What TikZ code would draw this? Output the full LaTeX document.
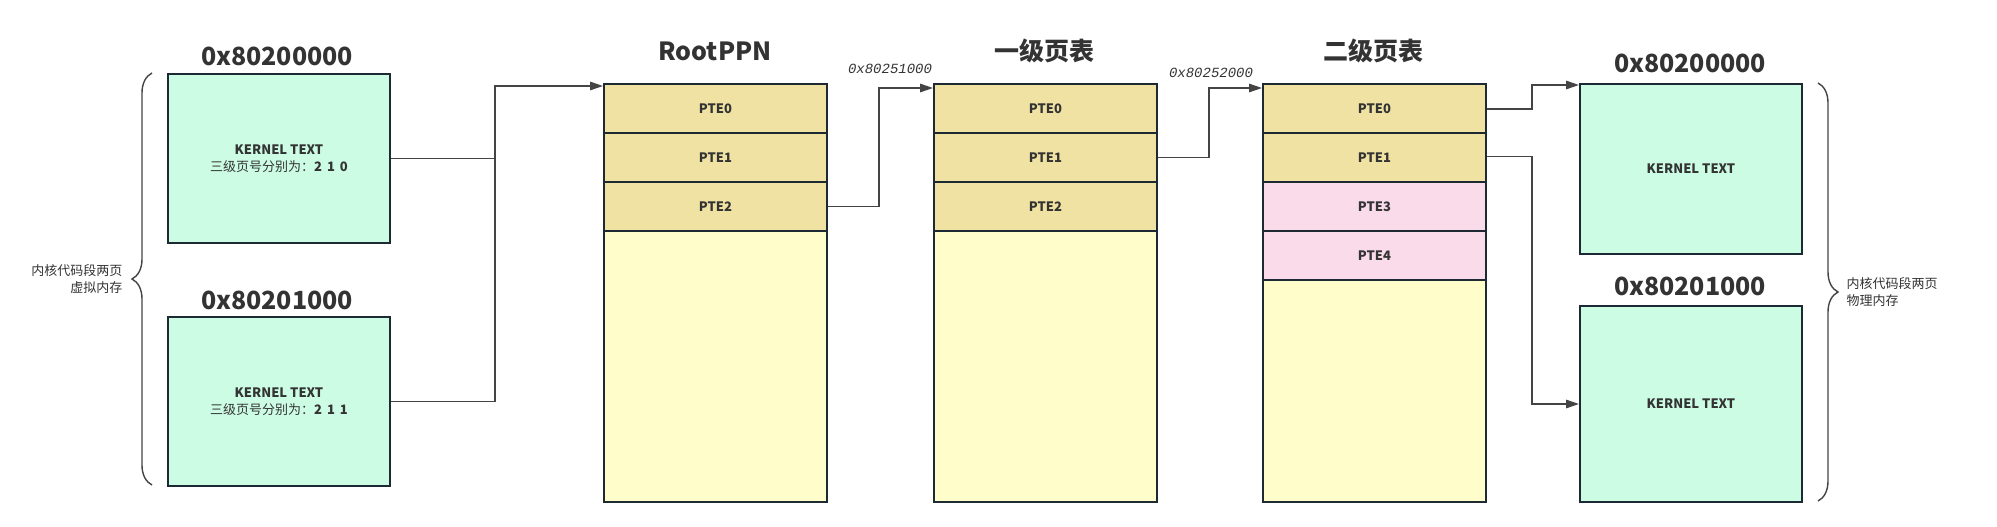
\documentclass[tikz,border=0pt]{standalone}
\usepackage{fontspec}
\setmainfont{Noto Sans CJK SC}
\newfontfamily\addrfont{Liberation Mono}
\usetikzlibrary{arrows.meta,calc,decorations.pathreplacing}
\definecolor{boxline}{HTML}{1E2A33}
\definecolor{txt}{HTML}{333333}
\definecolor{mint}{HTML}{CCFCE4}
\definecolor{tan}{HTML}{F0E2A2}
\definecolor{paleyellow}{HTML}{FFFDCA}
\definecolor{pink}{HTML}{F9DBEA}
\definecolor{wire}{HTML}{444444}
\tikzset{
  pagebox/.style={draw=boxline, line width=2pt, fill=mint, minimum width=222pt, inner sep=0pt, anchor=north west, text=txt, align=center, font=\fontsize{13}{17}\selectfont},
  pterow/.style={draw=boxline, line width=2pt, fill=tan, minimum width=223pt, minimum height=49pt, inner sep=0pt, anchor=north west, text=txt, font=\fontsize{13}{15}\selectfont\bfseries},
  pinkrow/.style={pterow, fill=pink},
  restrow/.style={draw=boxline, line width=2pt, fill=paleyellow, minimum width=223pt, inner sep=0pt, anchor=north west},
  bigtitle/.style={text=txt, font=\fontsize{25}{28}\selectfont\bfseries},
  addr/.style={text=txt, font=\addrfont\itshape\fontsize{14}{16}\selectfont},
  sidelabel/.style={text=txt, font=\fontsize{13}{16.5}\selectfont, align=left},
  conn/.style={draw=wire, line width=1.4pt, -{Triangle[length=13pt,width=8.5pt]}},
  plain/.style={draw=wire, line width=1.4pt},
  bracestyle/.style={draw=wire, line width=1.4pt, decorate, decoration={brace, amplitude=20pt}},
}
\newcommand{\pagenums}[3]{\textbf{#1\hspace{5pt}#2\hspace{5pt}#3}}
\begin{document}
\begin{tikzpicture}[x=1pt,y=-1pt]
\useasboundingbox (0,0) rectangle (1997,527);

% left virtual pages
\node[bigtitle] (vt1) at (277,56) {0x80200000};
\node[pagebox, minimum height=169pt] (v1) at (167,73) {\textbf{KERNEL TEXT}\\三级页号分别为：\pagenums{2}{1}{0}};
\node[bigtitle] (vt2) at (277,300) {0x80201000};
\node[pagebox, minimum height=169pt] (v2) at (167,316) {\textbf{KERNEL TEXT}\\三级页号分别为：\pagenums{2}{1}{1}};
\draw[bracestyle] (152,485) -- (152,73);
\node[sidelabel, anchor=east, align=right] (vl) at (126,279) {内核代码段两页\\虚拟内存};

% RootPPN
\node[bigtitle] (rt) at (715,51) {RootPPN};
\node[pterow] (r0) at (603,83) {PTE0};
\node[pterow] (r1) at (603,132) {PTE1};
\node[pterow] (r2) at (603,181) {PTE2};
\node[restrow, minimum height=271pt] (rr) at (603,230) {};

% first level
\node[bigtitle] (st) at (1044,51) {一级页表};
\node[pterow] (s0) at (933,83) {PTE0};
\node[pterow] (s1) at (933,132) {PTE1};
\node[pterow] (s2) at (933,181) {PTE2};
\node[restrow, minimum height=271pt] (sr) at (933,230) {};

% second level
\node[bigtitle] (tt) at (1373,51) {二级页表};
\node[pterow] (t0) at (1262,83) {PTE0};
\node[pterow] (t1) at (1262,132) {PTE1};
\node[pinkrow] (t3) at (1262,181) {PTE3};
\node[pinkrow] (t4) at (1262,230) {PTE4};
\node[restrow, minimum height=222pt] (tr) at (1262,279) {};

% right physical pages
\node[bigtitle] (pt1) at (1690,63) {0x80200000};
\node[pagebox, minimum height=170pt, font=\fontsize{13}{17}\selectfont\bfseries] (p1) at (1579,83) {KERNEL TEXT};
\node[bigtitle] (pt2) at (1690,286) {0x80201000};
\node[pagebox, minimum height=196pt, font=\fontsize{13}{17}\selectfont\bfseries] (p2) at (1579,305) {KERNEL TEXT};
\draw[bracestyle] (1818,83) -- (1818,501);
\node[sidelabel, anchor=west] (pl) at (1843,292) {内核代码段两页\\物理内存};

% connectors
\coordinate (rin) at ($(r0.north west)+(0,3)$);
\coordinate (sin) at ($(s0.north west)+(0,5)$);
\coordinate (tin) at ($(t0.north west)+(0,5)$);
\coordinate (p1in) at ($(p1.north west)+(0,2)$);
\coordinate (p2in) at ($(p2.west)+(0,0)$);

\draw[conn] (v1.east) -| ($(rin)+(-108,0)$) -- (rin);
\draw[plain] (v2.east) -| ($(rin)+(-108,0)$);

\draw[conn] (r2.east) -| ($(sin)+(-54,0)$) -- (sin);
\node[addr] (a1) at (890,69) {0x80251000};

\draw[conn] (s1.east) -| ($(tin)+(-53,0)$) -- (tin);
\node[addr] (a2) at (1211,73) {0x80252000};

\draw[conn] ([yshift=-0.5pt]t0.east) -| ($(p1in)+(-47,0)$) -- (p1in);
\draw[conn] ([yshift=1pt]t1.east) -| ($(p2in)+(-47,0)$) -- (p2in);
\end{tikzpicture}
\end{document}
